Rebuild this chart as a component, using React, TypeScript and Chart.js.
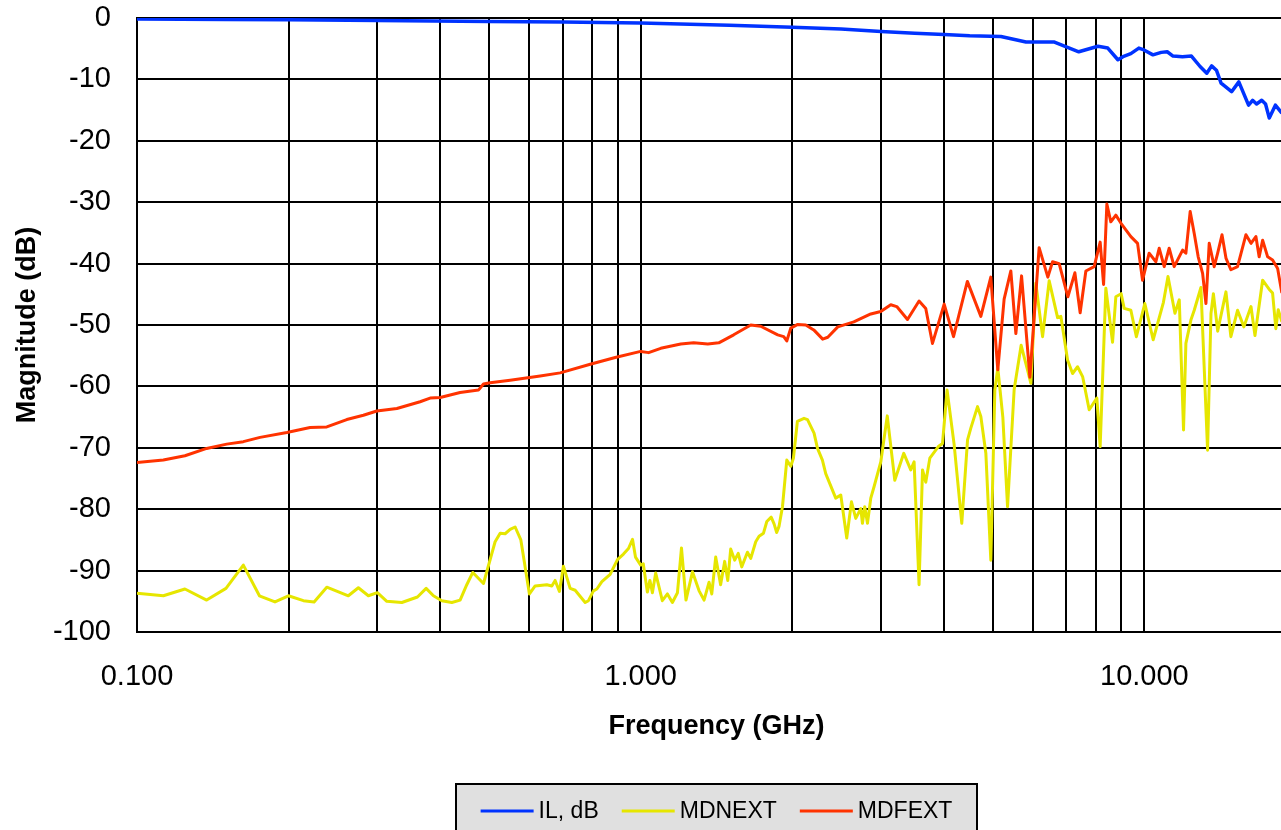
import React, { useEffect, useRef } from "react";
import { Chart, registerables } from "chart.js";

Chart.register(...registerables);

const FONT = '"Liberation Sans", Arial, Helvetica, sans-serif';

// x axis (GHz, logarithmic)
const xMin = 0.1;
const xMax = 20;
const gridFreqs = [0.1, 0.2, 0.3, 0.4, 0.5, 0.6, 0.7, 0.8, 0.9, 1, 2, 3, 4, 5, 6, 7, 8, 9, 10];
const labeledFreqs = [0.1, 1, 10];

// y axis (dB)
const yMin = -100;
const yMax = 0;
const yStep = 10;

const seriesLabels = ["IL, dB", "MDNEXT", "MDFEXT"];
const seriesColors = ["#0033FF", "#E6E600", "#FF3300"];

// [frequency GHz, magnitude dB]
const ilPoints: number[][] = [
  [0.1, -0.15], [0.15, -0.25], [0.2, -0.3], [0.3, -0.4], [0.5, -0.55], [0.7, -0.65], [1.0, -0.8],
  [1.5, -1.2], [2.0, -1.5], [2.5, -1.8], [3.0, -2.2], [3.5, -2.5], [4.0, -2.7], [4.5, -2.9],
  [5.19, -3.0], [5.82, -3.9], [6.61, -3.9], [7.41, -5.5], [8.09, -4.6], [8.46, -4.9], [8.86, -6.8],
  [9.07, -6.3], [9.4, -5.8], [9.75, -4.9], [9.98, -5.2], [10.4, -6.0], [10.8, -5.6], [11.1, -5.5],
  [11.4, -6.2], [11.9, -6.3], [12.4, -6.2], [12.9, -7.9], [13.3, -9.0], [13.6, -7.8], [13.9, -8.5],
  [14.2, -10.6], [14.9, -12.0], [15.4, -10.4], [16.1, -14.2], [16.4, -13.4], [16.7, -14.0],
  [17.1, -13.4], [17.4, -14.0], [17.7, -16.3], [18.2, -14.2], [18.75, -15.5],
];

const mdnextPoints: number[][] = [
  [0.1, -93.7], [0.1128, -94.1], [0.1245, -93.0], [0.1375, -94.8], [0.1502, -92.9], [0.1626, -89.1],
  [0.175, -94.1], [0.1879, -95.1], [0.1998, -94.1], [0.214, -94.9], [0.2247, -95.1], [0.2381, -92.7],
  [0.2628, -94.1], [0.2751, -92.8], [0.288, -94.1], [0.3001, -93.6], [0.3133, -95.0], [0.3356, -95.2],
  [0.3604, -94.3], [0.375, -92.9], [0.3877, -94.1], [0.4029, -94.9], [0.4217, -95.2], [0.438, -94.8],
  [0.4516, -92.3], [0.4642, -90.3], [0.4874, -92.1], [0.514, -85.3], [0.526, -83.9], [0.5381, -84.0],
  [0.5506, -83.3], [0.5633, -82.9], [0.5782, -85.0], [0.6013, -93.8], [0.6172, -92.5], [0.651, -92.3],
  [0.6661, -92.5], [0.6763, -91.6], [0.6897, -93.4], [0.7024, -89.3], [0.7244, -92.9], [0.7412, -93.2],
  [0.7759, -95.2], [0.7876, -94.9], [0.8058, -93.3], [0.8185, -93.0], [0.8374, -91.8], [0.8698, -90.6],
  [0.8993, -88.2], [0.9243, -87.3], [0.9458, -86.4], [0.9633, -84.9], [0.9765, -87.8], [1.0, -89.1],
  [1.012, -88.9], [1.031, -93.5], [1.043, -91.6], [1.055, -93.6], [1.071, -90.4], [1.104, -94.9],
  [1.13, -93.8], [1.156, -95.2], [1.183, -93.6], [1.205, -86.3], [1.23, -94.8], [1.267, -90.2],
  [1.306, -93.3], [1.336, -94.8], [1.367, -91.9], [1.384, -93.8], [1.409, -87.8], [1.441, -92.3],
  [1.468, -88.5], [1.489, -91.6], [1.509, -86.5], [1.537, -88.3], [1.562, -87.2], [1.587, -89.4],
  [1.629, -87.0], [1.654, -88.0], [1.692, -85.3], [1.718, -84.4], [1.753, -83.9], [1.78, -82.0],
  [1.816, -81.3], [1.84, -82.4], [1.862, -83.8], [1.882, -82.8], [1.912, -79.6], [1.95, -72.0],
  [1.986, -73.0], [2.01, -71.7], [2.047, -65.7], [2.11, -65.2], [2.144, -65.4], [2.209, -67.6],
  [2.244, -70.1], [2.295, -72.0], [2.33, -74.2], [2.384, -76.2], [2.439, -78.2], [2.496, -77.7],
  [2.565, -84.7], [2.621, -78.8], [2.673, -81.5], [2.735, -79.9], [2.756, -82.3], [2.785, -79.6],
  [2.82, -82.3], [2.863, -78.2], [2.907, -76.3], [2.997, -72.3], [3.087, -64.8], [3.195, -75.3],
  [3.329, -70.9], [3.437, -73.6], [3.49, -72.3], [3.57, -92.3], [3.627, -73.6], [3.681, -75.6],
  [3.75, -71.7], [3.899, -69.8], [3.974, -69.3], [4.058, -60.6], [4.19, -69.4], [4.34, -82.3],
  [4.456, -68.7], [4.523, -66.8], [4.664, -63.3], [4.735, -64.9], [4.845, -70.9], [4.956, -88.3],
  [5.048, -60.6], [5.117, -57.0], [5.236, -65.0], [5.35, -79.6], [5.514, -60.5], [5.693, -53.3],
  [5.861, -57.3], [5.952, -59.5], [6.089, -43.2], [6.279, -51.9], [6.472, -42.8], [6.725, -48.8],
  [6.827, -48.6], [7.039, -55.7], [7.202, -57.9], [7.368, -56.8], [7.54, -58.4], [7.77, -63.8],
  [8.047, -61.9], [8.17, -69.8], [8.385, -44.0], [8.646, -52.8], [8.777, -45.4], [8.993, -44.9],
  [9.118, -47.3], [9.401, -47.6], [9.641, -51.9], [10.02, -46.5], [10.41, -52.4], [10.91, -46.3],
  [11.14, -42.1], [11.5, -48.1], [11.73, -45.9], [11.96, -67.1], [12.09, -53.0], [12.37, -49.2],
  [12.56, -47.6], [12.95, -43.9], [13.35, -70.4], [13.56, -48.1], [13.71, -44.9], [13.98, -51.0],
  [14.52, -44.6], [14.85, -51.9], [15.31, -47.6], [15.76, -50.3], [16.28, -47.0], [16.58, -51.7],
  [17.17, -42.7], [17.7, -44.2], [17.97, -44.8], [18.24, -50.6], [18.44, -47.5], [18.75, -49.5],
];

const mdfextPoints: number[][] = [
  [0.1, -72.4], [0.1128, -72.0], [0.1245, -71.3], [0.1375, -70.1], [0.1507, -69.4], [0.1626, -69.0],
  [0.1755, -68.3], [0.1984, -67.5], [0.2206, -66.7], [0.2381, -66.6], [0.2609, -65.4], [0.2815, -64.7],
  [0.2993, -64.0], [0.3281, -63.6], [0.3648, -62.5], [0.3819, -61.9], [0.3999, -61.8], [0.438, -61.0],
  [0.4763, -60.6], [0.4874, -59.6], [0.5025, -59.4], [0.5506, -59.0], [0.6316, -58.3], [0.692, -57.8],
  [0.794, -56.4], [0.89, -55.3], [1.0, -54.3], [1.037, -54.5], [1.096, -53.8], [1.201, -53.1],
  [1.274, -52.9], [1.359, -53.1], [1.429, -52.9], [1.53, -51.6], [1.654, -50.0], [1.731, -50.2],
  [1.871, -51.6], [1.923, -51.9], [1.95, -52.6], [1.986, -50.5], [2.05, -49.9], [2.127, -50.0],
  [2.206, -50.8], [2.298, -52.3], [2.352, -52.0], [2.462, -50.3], [2.649, -49.5], [2.863, -48.2],
  [2.997, -47.8], [3.137, -46.7], [3.224, -47.0], [3.386, -49.1], [3.57, -46.1], [3.681, -47.3],
  [3.796, -53.0], [4.004, -46.6], [4.179, -51.9], [4.452, -42.9], [4.735, -48.6], [4.956, -42.2],
  [5.117, -57.3], [5.267, -45.8], [5.431, -41.2], [5.557, -51.4], [5.704, -42.0], [5.925, -58.5],
  [6.181, -37.4], [6.432, -42.2], [6.572, -39.7], [6.774, -40.0], [7.049, -45.4], [7.278, -41.5],
  [7.456, -48.0], [7.653, -41.2], [7.949, -40.5], [8.17, -36.5], [8.299, -43.4], [8.424, -30.3],
  [8.578, -33.2], [8.777, -32.1], [8.98, -33.4], [9.401, -35.6], [9.694, -36.7], [9.917, -42.7],
  [10.22, -38.3], [10.54, -39.7], [10.7, -37.5], [10.95, -40.5], [11.2, -37.5], [11.46, -40.5],
  [11.91, -37.8], [12.09, -38.3], [12.33, -31.5], [12.56, -35.1], [12.79, -38.9], [13.05, -41.6],
  [13.25, -46.5], [13.45, -36.7], [13.76, -40.5], [13.98, -38.3], [14.26, -35.3], [14.52, -39.1],
  [14.85, -41.0], [15.31, -40.5], [15.91, -35.3], [16.28, -36.7], [16.65, -35.6], [16.9, -38.9],
  [17.17, -36.2], [17.57, -38.9], [17.97, -39.4], [18.39, -40.8], [18.75, -44.8],
];

const seriesPoints = [ilPoints, mdnextPoints, mdfextPoints];
const seriesWidths = [3.5, 3, 3];
const seriesOrder = [0, 2, 1];

const boxLegend = {
  id: "boxLegend",
  afterDraw(chart: any) {
    const { ctx, chartArea } = chart;
    ctx.save();
    ctx.font = `23px ${FONT}`;
    const sample = 53;
    const gap = 5;
    const spacing = 23;
    const padX = 25;
    const items = chart.data.datasets.map((ds: any) => ({
      label: ds.label,
      color: ds.borderColor,
      w: ctx.measureText(ds.label).width,
    }));
    const total = items.reduce(
      (s: number, it: any, i: number) => s + sample + gap + it.w + (i ? spacing : 0),
      0
    );
    const cx = (chartArea.left + chartArea.right) / 2;
    const boxL = Math.round(cx - total / 2 - padX);
    const boxR = Math.round(cx + total / 2 + padX);
    const boxT = 784;
    const cy = 811;
    ctx.fillStyle = "#E0E0E0";
    ctx.fillRect(boxL, boxT, boxR - boxL, 100);
    ctx.strokeStyle = "#000";
    ctx.lineWidth = 2;
    ctx.strokeRect(boxL, boxT, boxR - boxL, 100);
    let x = cx - total / 2;
    items.forEach((it: any) => {
      ctx.strokeStyle = it.color;
      ctx.lineWidth = 3;
      ctx.beginPath();
      ctx.moveTo(x, cy);
      ctx.lineTo(x + sample, cy);
      ctx.stroke();
      ctx.fillStyle = "#000";
      ctx.textBaseline = "middle";
      ctx.textAlign = "left";
      ctx.fillText(it.label, x + sample + gap, cy + 1);
      x += sample + gap + it.w + spacing;
    });
    ctx.restore();
  },
};

export default function App() {
  const ref = useRef<HTMLCanvasElement | null>(null);

  useEffect(() => {
    if (!ref.current) return;
    const chart = new Chart(ref.current, {
      type: "line",
      data: {
        datasets: seriesLabels.map((label, i) => ({
          label,
          data: seriesPoints[i].map((p) => ({ x: p[0], y: p[1] })),
          borderColor: seriesColors[i],
          backgroundColor: seriesColors[i],
          borderWidth: seriesWidths[i],
          borderJoinStyle: "round",
          pointRadius: 0,
          tension: 0,
          order: seriesOrder[i],
        })),
      },
      options: {
        animation: false,
        responsive: false,
        maintainAspectRatio: false,
        layout: { padding: { top: 18, right: 4, bottom: 0, left: 0 } },
        plugins: {
          legend: { display: false },
          tooltip: { enabled: false },
        },
        scales: {
          x: {
            type: "logarithmic",
            min: xMin,
            max: xMax,
            afterBuildTicks: (scale: any) => {
              scale.ticks = gridFreqs.map((v) => ({ value: v }));
            },
            afterFit: (scale: any) => {
              scale.height = 198;
              scale.paddingLeft = 0;
              scale.paddingRight = 0;
            },
            ticks: {
              autoSkip: false,
              maxRotation: 0,
              minRotation: 0,
              padding: 28,
              color: "#000",
              font: { family: FONT, size: 29 },
              callback: (value: any) => {
                const v = Number(value);
                const hit = labeledFreqs.find((f) => Math.abs(f - v) / f < 1e-6);
                return hit !== undefined ? hit.toFixed(3) : "";
              },
            },
            grid: { color: "#000", lineWidth: 2, drawTicks: false },
            border: { color: "#000", width: 2 },
            title: {
              display: true,
              text: "Frequency (GHz)",
              color: "#000",
              font: { family: FONT, size: 27, weight: "bold" },
              padding: { top: 0, bottom: 87 },
            },
          },
          y: {
            type: "linear",
            min: yMin,
            max: yMax,
            afterFit: (scale: any) => {
              scale.width = 137;
              scale.paddingTop = 0;
              scale.paddingBottom = 0;
            },
            ticks: {
              stepSize: yStep,
              padding: 26,
              color: "#000",
              font: { family: FONT, size: 29 },
            },
            grid: { color: "#000", lineWidth: 2, drawTicks: false },
            border: { color: "#000", width: 2 },
            title: {
              display: true,
              text: "Magnitude (dB)",
              color: "#000",
              font: { family: FONT, size: 27, weight: "bold" },
              padding: { top: 11, bottom: 0 },
            },
          },
        },
      },
      plugins: [boxLegend],
    } as any);
    return () => chart.destroy();
  }, []);

  return (
    <div
      style={{
        position: "fixed",
        left: 0,
        top: 0,
        width: 1281,
        height: 830,
        overflow: "hidden",
        background: "#fff",
      }}
    >
      <canvas ref={ref} width={1300} height={830} style={{ width: 1300, height: 830, display: "block" }} />
    </div>
  );
}
